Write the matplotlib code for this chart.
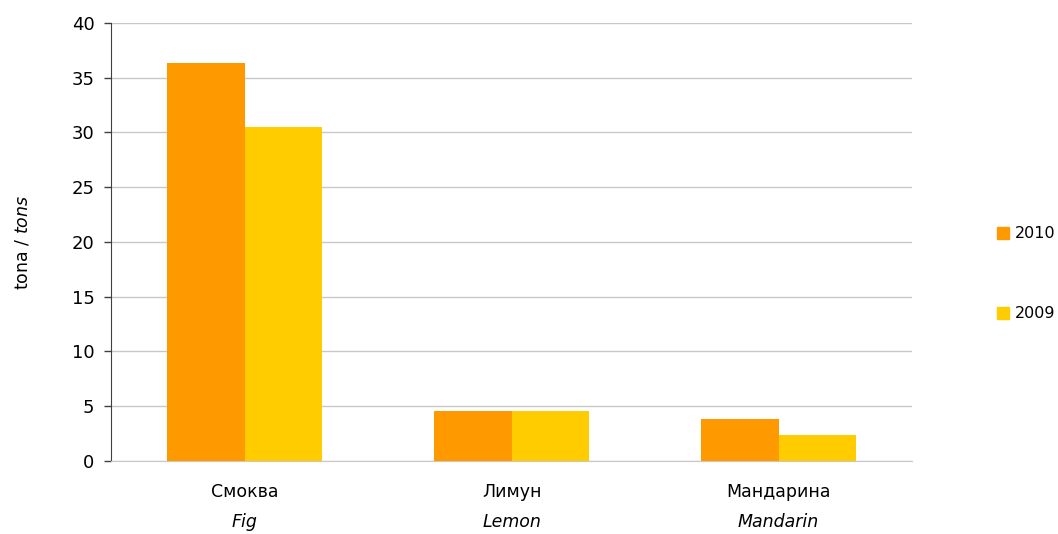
import matplotlib
matplotlib.use("Agg")
import matplotlib.pyplot as plt
from matplotlib.patches import Rectangle
import numpy as np

categories_bg = ["Смоква", "Лимун", "Мандарина"]
categories_en = ["Fig", "Lemon", "Mandarin"]
series_names = ["2010", "2009"]
values_2010 = [36.35, 4.6, 3.85]
values_2009 = [30.5, 4.6, 2.4]
colors = ["#FF9900", "#FFCC00"]

fig = plt.figure(figsize=(10.58, 5.34), dpi=100)
ax = fig.add_axes([0.105, 0.1367, 0.757, 0.8203])

x = np.arange(len(categories_bg))
w = 0.29
ax.bar(x - w/2, values_2010, width=w, color=colors[0], zorder=3, label=series_names[0])
ax.bar(x + w/2, values_2009, width=w, color=colors[1], zorder=3, label=series_names[1])

ax.set_xlim(-0.5, 2.5)
ax.set_ylim(0, 40)
ax.set_yticks(range(0, 41, 5))
ax.yaxis.grid(True, color="#c8c8c8", linewidth=1, zorder=0)
ax.set_axisbelow(True)
for s in ["top", "right"]:
    ax.spines[s].set_visible(False)
ax.spines["bottom"].set_color("#c8c8c8")
ax.spines["left"].set_color("#404040")
ax.tick_params(axis="y", labelsize=13, length=5, color="#404040", width=1, pad=7)
ax.tick_params(axis="x", length=0)
ax.set_xticks(x)
ax.set_xticklabels(categories_bg, fontsize=12.5)
ax.tick_params(axis="x", pad=16)
for xi, lab in zip(x, categories_en):
    ax.text(xi, -5.6, lab, ha="center", va="center", fontsize=12.5, style="italic",
            transform=ax.transData, clip_on=False)

ax.set_ylabel(r"tona / $\it{tons}$", fontsize=12.5, labelpad=29)

# legend
W, H = 1058.0, 534.0
for i, (name, c) in enumerate(zip(series_names, colors)):
    yc = [233, 313][i]
    fig.patches.append(Rectangle((997 / W, (H - yc - 6) / H), 12 / W, 12 / H,
                                 transform=fig.transFigure, color=c, figure=fig))
    fig.text(1015 / W, (H - yc) / H, name, va="center", ha="left", fontsize=11.5)

fig.savefig("out.png", dpi=100)
